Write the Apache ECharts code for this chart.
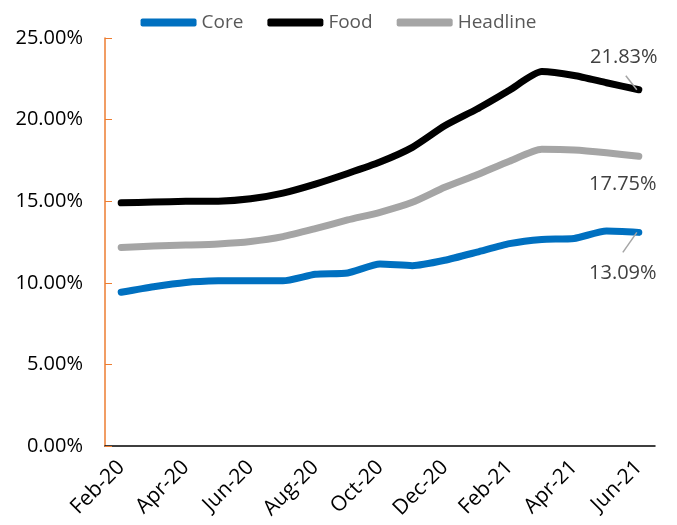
<!DOCTYPE html>
<html>
<head>
<meta charset="utf-8">
<script src="https://cdn.jsdelivr.net/npm/echarts@6/dist/echarts.min.js"></script>
<style>
html, body { margin: 0; padding: 0; background: #fff; }
#chart { width: 677px; height: 525px; }
</style>
</head>
<body>
<div id="chart"></div>
<script>
// monthly inflation, %
var months = ['Feb-20', 'Mar-20', 'Apr-20', 'May-20', 'Jun-20', 'Jul-20', 'Aug-20', 'Sep-20', 'Oct-20',
    'Nov-20', 'Dec-20', 'Jan-21', 'Feb-21', 'Mar-21', 'Apr-21', 'May-21', 'Jun-21'];
var core = [9.42, 9.76, 10.02, 10.12, 10.13, 10.12, 10.52, 10.6, 11.15, 11.05, 11.38, 11.88, 12.4, 12.66, 12.72, 13.17, 13.09];
var food = [14.9, 14.95, 14.99, 15.0, 15.15, 15.5, 16.05, 16.7, 17.4, 18.3, 19.62, 20.65, 21.8, 22.94, 22.7, 22.26, 21.83];
var headline = [12.17, 12.25, 12.31, 12.38, 12.53, 12.83, 13.32, 13.85, 14.32, 14.93, 15.85, 16.62, 17.45, 18.18, 18.14, 17.97, 17.75];

var FONT = 'Open Sans';

function endLabel(arr, pos) {
    return arr.map(function (v, i) {
        if (i != arr.length - 1) return v;
        return {
            value: v,
            label: {
                show: true,
                position: pos,
                distance: 5,
                formatter: function (p) { return p.value.toFixed(2) + '%'; },
                color: '#404040',
                fontSize: 20,
                fontFamily: FONT
            }
        };
    });
}

function makeSeries(name, arr, color, pos, dx, dy) {
    return {
        name: name,
        type: 'line',
        data: endLabel(arr, pos),
        smooth: 0.2,
        symbol: 'circle',
        symbolSize: 0,
        showSymbol: true,
        lineStyle: { color: color, width: 7, cap: 'round', join: 'round' },
        itemStyle: { color: color },
        labelLayout: { dx: dx, dy: dy },
        animation: false
    };
}

var myChart = echarts.init(document.getElementById('chart'));
myChart.setOption({
    textStyle: { fontFamily: FONT },
    legend: {
        top: 8,
        left: 'center',
        itemWidth: 56,
        itemHeight: 8,
        itemGap: 24,
        textStyle: { color: '#595959', fontSize: 19, fontFamily: FONT },
        data: [
            { name: 'Core', icon: 'roundRect' },
            { name: 'Food', icon: 'roundRect' },
            { name: 'Headline', icon: 'roundRect' }
        ]
    },
    grid: { left: 105, right: 22, top: 38, bottom: 79 },
    xAxis: {
        type: 'category',
        data: months,
        boundaryGap: true,
        axisLine: { lineStyle: { color: '#000', width: 1.5 } },
        axisTick: { inside: true, interval: 1, length: 6, lineStyle: { color: '#000' } },
        axisLabel: { interval: 1, rotate: 45, color: '#000', fontSize: 21, fontFamily: FONT, margin: 18 }
    },
    yAxis: {
        type: 'value',
        min: 0,
        max: 25,
        interval: 5,
        splitLine: { show: false },
        axisLine: { show: true, lineStyle: { color: '#ED7D31', width: 1.5 } },
        axisTick: { show: true, inside: true, length: 7, lineStyle: { color: '#ED7D31' } },
        axisLabel: {
            color: '#000', fontSize: 20, fontFamily: FONT, margin: 22,
            formatter: function (v) { return v.toFixed(2) + '%'; }
        }
    },
    series: [
        makeSeries('Core', core, '#0070C0', 'bottom', -16, 26),
        makeSeries('Food', food, '#000000', 'top', -15, -17),
        makeSeries('Headline', headline, '#A5A5A5', 'bottom', -16, 13)
    ]
});

// short leader lines from the last point to the Food and Core labels
function leader(seriesIndex, arr, dx2, dy2) {
    var last = arr.length - 1;
    var p = myChart.convertToPixel({ seriesIndex: seriesIndex }, [last, arr[last]]);
    return {
        type: 'line',
        shape: { x1: p[0] - 2, y1: p[1], x2: p[0] + dx2, y2: p[1] + dy2 },
        style: { stroke: '#A5A5A5', lineWidth: 1.5 },
        z: 10
    };
}
myChart.setOption({
    graphic: [leader(1, food, -13, -14), leader(0, core, -16, 20)]
});
</script>
</body>
</html>
